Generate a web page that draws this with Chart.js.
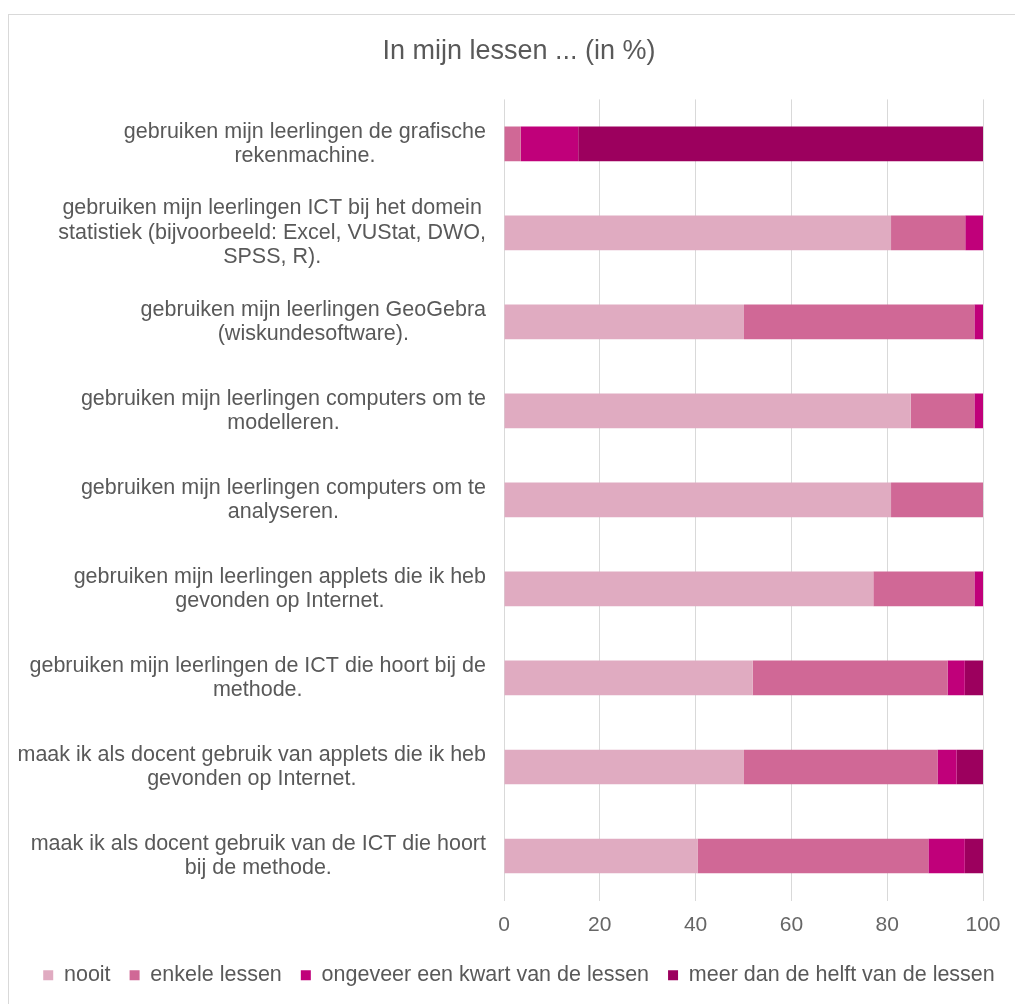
<!DOCTYPE html>
<html>
<head>
<meta charset="utf-8">
<script src="https://cdn.jsdelivr.net/npm/chart.js@4/dist/chart.umd.min.js"></script>
<style>
  html, body { margin: 0; padding: 0; background: #fff; }
  #wrap { position: relative; width: 1015px; height: 1004px; }
  #frame { position: absolute; left: 8px; top: 14px; width: 1020px; height: 1000px; border: 1px solid #d9d9d9; box-sizing: border-box; }
  canvas { position: absolute; left: 0; top: 0; }
</style>
</head>
<body>
<div id="wrap">
  <div id="frame"></div>
  <canvas id="chart" width="1015" height="1004"></canvas>
</div>
<script>
// Vragen (categorieën), regels zoals in het origineel
const statements = [
  ['gebruiken mijn leerlingen de grafische', 'rekenmachine.'],
  ['gebruiken mijn leerlingen ICT bij het domein', 'statistiek (bijvoorbeeld: Excel, VUStat, DWO,', 'SPSS, R).'],
  ['gebruiken mijn leerlingen GeoGebra', '(wiskundesoftware).'],
  ['gebruiken mijn leerlingen computers om te', 'modelleren.'],
  ['gebruiken mijn leerlingen computers om te', 'analyseren.'],
  ['gebruiken mijn leerlingen applets die ik heb', 'gevonden op Internet.'],
  ['gebruiken mijn leerlingen de ICT die hoort bij de', 'methode.'],
  ['maak ik als docent gebruik van applets die ik heb', 'gevonden op Internet.'],
  ['maak ik als docent gebruik van de ICT die hoort', 'bij de methode.']
];

// Percentages per antwoord
const nooit   = [0,    80.8, 50.1, 84.9, 80.8, 77.1, 51.9, 50.1, 40.4];
const enkele  = [3.5,  15.5, 48.1, 13.3, 19.2, 21.1, 40.7, 40.4, 48.2];
const kwart   = [12.0, 3.7,  1.8,  1.8,  0,    1.8,  3.6,  4.0,  7.6];
const helft   = [84.5, 0,    0,    0,    0,    0,    3.8,  5.5,  3.8];

const xTicks = [0, 20, 40, 60, 80, 100];

const textColor = '#595959';
const fontFamily = '"Liberation Sans", Arial, sans-serif';

/** Labels links: blok rechts uitgelijnd, regels gecentreerd (zoals Excel) */
const centeredLabels = {
  id: 'centeredLabels',
  afterDraw(chart) {
    const { ctx, scales: { y }, chartArea } = chart;
    const lineH = 24.5;
    ctx.save();
    ctx.font = '21.5px ' + fontFamily;
    ctx.fillStyle = textColor;
    ctx.textAlign = 'center';
    ctx.textBaseline = 'middle';
    statements.forEach((lines, i) => {
      const yc = y.getPixelForTick(i);
      const widest = Math.max(...lines.map(l => ctx.measureText(l).width));
      const xc = chartArea.left - 18 - widest / 2;
      lines.forEach((l, j) => {
        ctx.fillText(l, xc, yc + (j - (lines.length - 1) / 2) * lineH);
      });
    });
    ctx.restore();
  }
};

new Chart(document.getElementById('chart'), {
  type: 'bar',
  data: {
    labels: statements,
    datasets: [
      { label: 'nooit', data: nooit, backgroundColor: '#e0abc1' },
      { label: 'enkele lessen', data: enkele, backgroundColor: '#d06896' },
      { label: 'ongeveer een kwart van de lessen', data: kwart, backgroundColor: '#c0007a' },
      { label: 'meer dan de helft van de lessen', data: helft, backgroundColor: '#9c005e' }
    ]
  },
  options: {
    indexAxis: 'y',
    responsive: false,
    animation: false,
    categoryPercentage: 0.39,
    barPercentage: 1,
    layout: { padding: { left: 23, right: 0, top: 0, bottom: 8 } },
    scales: {
      x: {
        stacked: true,
        min: 0,
        max: 100,
        afterBuildTicks: axis => { axis.ticks = xTicks.map(v => ({ value: v })); },
        afterFit: scale => { scale.height = 45; },
        grid: { color: '#d9d9d9', drawTicks: false },
        border: { display: false },
        ticks: { color: '#666666', padding: 12, font: { family: fontFamily, size: 21 } }
      },
      y: {
        stacked: true,
        grid: { display: false },
        border: { display: false },
        ticks: { display: false },
        afterFit: scale => { scale.width = 481; }
      },
      yRight: {
        type: 'category',
        position: 'right',
        grid: { display: false },
        border: { display: false },
        ticks: { display: false },
        afterFit: scale => { scale.width = 32; }
      }
    },
    plugins: {
      title: {
        display: true,
        text: 'In mijn lessen ... (in %)',
        color: textColor,
        font: { family: fontFamily, size: 27, weight: 'normal' },
        padding: { top: 35, bottom: 32 }
      },
      legend: {
        position: 'bottom',
        labels: {
          color: textColor,
          boxWidth: 10,
          boxHeight: 10,
          padding: 19,
          font: { family: fontFamily, size: 21.5 }
        }
      },
      tooltip: { enabled: false }
    }
  },
  plugins: [centeredLabels]
});
</script>
</body>
</html>
